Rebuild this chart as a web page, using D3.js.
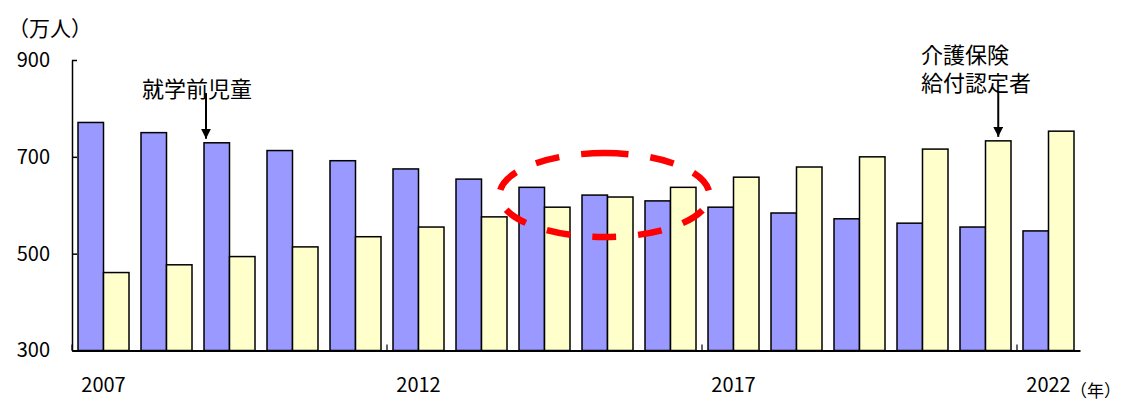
<!DOCTYPE html>
<html>
<head>
<meta charset="utf-8">
<script src="https://cdn.jsdelivr.net/npm/d3@7"></script>
<style>
  body { margin: 0; background: #fff; }
  svg text { font-family: "Noto Sans CJK JP", "Liberation Sans", sans-serif; fill: #000; }
</style>
</head>
<body>
<svg id="chart" width="1126" height="402"></svg>
<script>
// DATA
var years = ["2007","2008","2009","2010","2011","2012","2013","2014","2015","2016","2017","2018","2019","2020","2021","2022"];
var preschool = [771, 750, 729, 713, 692, 675, 654, 637, 621, 609, 596, 584, 572, 563, 555, 547];   // 就学前児童
var careCert  = [461, 477, 494, 514, 535, 555, 576, 596, 617, 637, 658, 679, 700, 716, 733, 753];   // 介護保険給付認定者
var yTicks = [300, 500, 700, 900];
var labelYears = ["2007","2012","2017","2022"];
var seriesKeys = ["pre","care"];
var colours = {pre: "#9999ff", care: "#ffffcc"};

var rows = years.map(function(y, i){ return {year: y, pre: preschool[i], care: careCert[i]}; });

var svg = d3.select("#chart");
var plotL = 72, plotR = 1080, plotT = 60, plotB = 350.5;

// scales
var x0 = d3.scaleBand().domain(years).range([plotL, plotR]).padding(0);
var x1 = d3.scaleBand().domain(seriesKeys).range([6, 57]).padding(0);
var y = d3.scaleLinear().domain([300, 900]).range([plotB, plotT]);

// bars
var groups = svg.append("g").selectAll("g")
  .data(rows)
  .enter().append("g")
    .attr("transform", function(d){ return "translate(" + x0(d.year) + ",0)"; });

groups.selectAll("rect")
  .data(function(d){ return seriesKeys.map(function(k){ return {key: k, value: d[k]}; }); })
  .enter().append("rect")
    .attr("x", function(d){ return x1(d.key); })
    .attr("width", x1.bandwidth())
    .attr("y", function(d){ return y(d.value); })
    .attr("height", function(d){ return plotB - y(d.value); })
    .attr("fill", function(d){ return colours[d.key]; })
    .attr("stroke", "#000")
    .attr("stroke-width", 1.5);

// Y axis
var yAxis = svg.append("g")
  .attr("transform", "translate(" + plotL + ",0)")
  .call(d3.axisLeft(y).tickValues(yTicks).tickSizeInner(-5).tickSizeOuter(0).tickPadding(22));
yAxis.select(".domain").attr("stroke", "#000").attr("stroke-width", 1.5);
yAxis.selectAll(".tick line").attr("stroke", "#000").attr("stroke-width", 1.5);
yAxis.selectAll("text").style("font-size", "20px");

// X axis
var xAxis = svg.append("g")
  .attr("transform", "translate(0," + plotB + ")")
  .call(d3.axisBottom(x0).tickValues(labelYears).tickSize(0).tickPadding(27));
xAxis.select(".domain").attr("stroke", "#000").attr("stroke-width", 2);
xAxis.selectAll("text").style("font-size", "20px");
xAxis.selectAll(".xtick")
  .data(labelYears)
  .enter().append("line")
    .attr("class", "xtick")
    .attr("x1", function(d){ return x0(d); })
    .attr("x2", function(d){ return x0(d); })
    .attr("y1", 0).attr("y2", -6)
    .attr("stroke", "#000").attr("stroke-width", 1.2);

// unit labels
svg.append("text").attr("x", 8).attr("y", 36).style("font-size", "21px").text("（万人）");
svg.append("text").attr("x", 1070).attr("y", 397).style("font-size", "17px").text("（年）");

// arrows
svg.append("defs").append("marker")
  .attr("id", "head").attr("viewBox", "0 0 10 10")
  .attr("refX", 10).attr("refY", 5)
  .attr("markerWidth", 5).attr("markerHeight", 5)
  .attr("markerUnits", "strokeWidth")
  .attr("orient", "auto")
  .append("path").attr("d", "M0,0 L10,5 L0,10 z").attr("fill", "#000");

var ax1 = x0("2009") + x1("pre") + 2;
svg.append("line").attr("x1", ax1).attr("x2", ax1).attr("y1", 93).attr("y2", y(preschool[2]) - 4)
  .attr("stroke", "#000").attr("stroke-width", 2).attr("marker-end", "url(#head)");
svg.append("text").attr("x", 142).attr("y", 97).style("font-size", "22px").text("就学前児童");

var ax2 = x0("2021") + x1("care") + x1.bandwidth() / 2;
svg.append("line").attr("x1", ax2).attr("x2", ax2).attr("y1", 91).attr("y2", y(careCert[14]) - 4)
  .attr("stroke", "#000").attr("stroke-width", 2).attr("marker-end", "url(#head)");
svg.append("text").attr("x", 921).attr("y", 63).style("font-size", "22px").text("介護保険");
svg.append("text").attr("x", 921).attr("y", 91).style("font-size", "22px").text("給付認定者");

// dashed ellipse around the crossover
var cx = x0("2015") + x0.bandwidth() / 2 - 3, cy = y(621), rx = 105, ry = 42;
var ell = svg.append("path")
  .attr("d", "M" + cx + "," + (cy - ry) +
             " A" + rx + "," + ry + " 0 1 1 " + cx + "," + (cy + ry) +
             " A" + rx + "," + ry + " 0 1 1 " + cx + "," + (cy - ry))
  .attr("fill", "none").attr("stroke", "#ff0000").attr("stroke-width", 6.5);
var len = ell.node().getTotalLength();
var dash = 24, gap = (len - 11 * dash) / 10;
ell.attr("stroke-dasharray", dash + "," + gap);
</script>
</body>
</html>
